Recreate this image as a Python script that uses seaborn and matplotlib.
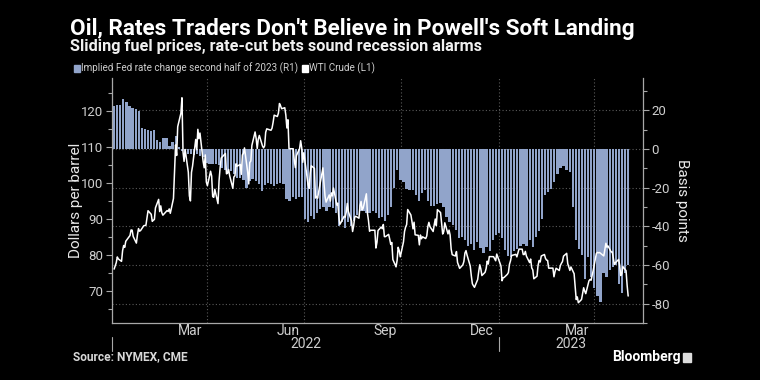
import matplotlib
matplotlib.use("Agg")
import numpy as np
import pandas as pd
import matplotlib.pyplot as plt
import matplotlib.dates as mdates
import matplotlib.transforms as mtransforms
from matplotlib.patches import Rectangle
from matplotlib.ticker import MultipleLocator, NullFormatter, FuncFormatter
import seaborn as sns

# ---------------- text ----------------
TITLE = "Oil, Rates Traders Don't Believe in Powell's Soft Landing"
SUBTITLE = "Sliding fuel prices, rate-cut bets sound recession alarms"
LEGEND_LABELS = ["Implied Fed rate change second half of 2023 (R1)", "WTI Crude (L1)"]
SOURCE = "Source: NYMEX, CME"
BRAND = "Bloomberg"
Y_LEFT_LABEL = "Dollars per barrel"
Y_RIGHT_LABEL = "Basis points"
MONTH_LABELS = ["Mar", "Jun", "Sep", "Dec", "Mar"]
MONTH_LABEL_DATES = ["2022-03-16", "2022-06-16", "2022-09-16", "2022-12-16", "2023-03-16"]
YEAR_LABELS = ["2022", "2023"]
YEAR_STARTS = ["2022-01-01", "2023-01-01"]

# ---------------- data ----------------
HOLIDAYS = ["2022-01-17", "2022-02-21", "2022-04-15", "2022-05-30", "2022-06-20",
            "2022-07-04", "2022-09-05", "2022-11-24", "2022-12-26", "2023-01-02",
            "2023-01-16", "2023-02-20", "2023-04-07"]

# WTI crude, USD/bbl, each trading day from 2022-01-03
wti_2022 = [
    # Jan
    76.08, 76.99, 77.85, 79.46, 78.90, 78.23, 81.22, 82.64, 82.12, 83.82,
    85.43, 86.96, 86.90, 85.14, 83.31, 85.60, 87.35, 86.61, 86.82, 88.15,
    # Feb
    88.20, 88.26, 90.27, 92.31, 91.32, 89.36, 89.66, 89.88, 93.10, 95.46,
    92.07, 93.66, 91.76, 91.07, 92.35, 92.10, 92.81, 91.59, 95.72,
    # Mar
    103.41, 110.60, 107.67, 115.68, 119.40, 123.70, 108.70, 106.02, 109.33, 103.01,
    96.44, 95.04, 102.98, 104.70, 112.12, 109.27, 114.93, 112.34, 113.90, 105.96,
    104.24, 107.82, 100.28,
    # Apr
    99.27, 103.28, 101.96, 96.23, 96.03, 98.26, 94.29, 100.60, 104.25, 106.95,
    108.21, 102.56, 102.75, 103.79, 102.07, 98.54, 101.70, 102.02, 105.36, 104.69,
    # May
    105.17, 102.41, 107.81, 108.26, 109.77, 103.09, 99.76, 105.71, 106.13, 110.49,
    114.20, 112.40, 109.59, 112.21, 113.23, 110.29, 109.77, 110.33, 114.09, 115.07,
    114.67,
    # Jun
    115.26, 116.87, 118.87, 118.50, 119.41, 122.11, 121.51, 120.67, 120.93, 118.93,
    115.31, 117.59, 109.56, 109.52, 106.19, 104.27, 107.62, 109.57, 111.76, 109.78,
    105.76,
    # Jul
    108.43, 99.50, 98.53, 102.73, 104.79, 104.09, 95.84, 96.30, 95.78, 97.59,
    102.60, 104.22, 99.88, 96.35, 94.70, 96.70, 94.98, 97.26, 96.42, 98.62,
    # Aug
    93.89, 94.42, 90.66, 88.54, 89.01, 90.76, 90.50, 91.93, 94.34, 92.09,
    89.41, 86.53, 88.11, 90.50, 90.77, 90.23, 93.74, 94.89, 92.52, 93.06,
    97.01, 91.64, 89.55,
    # Sep
    86.61, 86.87, 86.88, 81.94, 83.54, 86.79, 87.78, 87.31, 88.48, 85.10,
    85.11, 85.73, 84.45, 82.94, 83.49, 78.74, 76.71, 78.50, 82.15, 81.23,
    79.49,
    # Oct
    83.63, 86.52, 87.76, 88.45, 92.64, 91.13, 89.35, 87.27, 89.11, 85.61,
    85.46, 82.82, 85.55, 84.51, 85.05, 84.58, 85.32, 87.91, 89.08, 87.90,
    86.53,
    # Nov
    88.37, 90.00, 88.17, 92.61, 91.79, 88.91, 85.83, 86.47, 88.96, 85.87,
    86.92, 85.59, 81.64, 80.08, 79.73, 80.95, 77.94, 76.28, 77.24, 78.20,
    80.55,
    # Dec
    81.22, 79.98, 76.93, 74.25, 72.01, 71.46, 71.02, 73.17, 75.39, 77.28,
    76.11, 74.29, 75.19, 76.23, 78.29, 77.49, 79.56, 79.53, 78.96, 78.40,
    80.26,
]
wti_2023 = [
    # Jan
    76.93, 72.84, 73.67, 73.77, 74.63, 75.12, 77.41, 78.39, 79.86, 80.18,
    79.48, 80.61, 81.64, 81.62, 80.13, 80.15, 81.01, 79.68, 77.90, 78.87,
    # Feb
    76.41, 75.88, 73.39, 74.11, 77.14, 78.47, 78.06, 79.72, 80.14, 79.06,
    78.59, 78.49, 76.34, 76.36, 73.95, 75.39, 76.32, 75.68, 77.05,
    # Mar
    77.69, 78.16, 79.68, 80.46, 77.58, 76.66, 75.72, 76.68, 74.80, 71.33,
    67.61, 68.35, 66.74, 67.64, 69.33, 70.90, 69.96, 69.26, 72.81, 73.20,
    72.97, 74.37, 75.67,
    # Apr
    80.42, 80.71, 80.61, 80.70, 79.74, 81.53, 83.26, 82.16, 82.52, 80.83,
    80.86, 79.16, 77.37, 77.87, 78.76, 77.07, 74.30, 74.76, 76.78,
    # May
    75.66, 71.66, 68.60,
]
wti = wti_2022 + wti_2023

# Implied Fed rate change for 2H 2023, basis points (evenly spaced observations)
fed_change_bp = [
    22, 22.7, 22.5, 26, 24.5, 22.3, 21.2, 20.6, 19.5, 11,
    10.3, 9.7, 9.3, 9.7, 4.5, 3.6, 5.7, 5.7, 1.6, 3.6,
    6.5, 1, -1, -2, -2.5, -2.5, -3, -2.5, -3.5, -4,
    -7, -8, -8, -8, -8.5, -10, -11, -12, -11.4, -13,
    -14.8, -15, -16, -20, -16.5, -15.5, -16.5, -18, -21.7, -18.6,
    -17.4, -18, -19, -18, -17.4, -18, -26, -27, -25, -26,
    -25, -25, -36, -38, -34.7, -36, -33, -31, -30, -32,
    -30, -30.5, -33, -40, -38, -40.7, -38, -40, -37, -34,
    -32, -32, -33, -33, -32, -33, -35.5, -35, -37, -34,
    -30, -20, -11, -16, -17, -20.5, -21, -21, -24, -27,
    -23, -21, -27, -29.5, -29.5, -28.5, -28, -30, -35, -37.6,
    -39.3, -42, -46, -45.3, -47, -50, -49, -52, -48, -51,
    -53.8, -50.5, -53, -47, -44.5, -43.5, -46, -52, -55.5, -56,
    -53, -51.5, -50, -49, -50, -47, -50.5, -45.5, -42.5, -36,
    -24, -22, -20.5, -17, -13, -10, -9, -10.9, -11.7, -30,
    -47, -51.5, -55, -67, -56, -66, -72, -76, -79, -64,
    -66, -62.5, -61, -60, -70, -74.4, -64, -60,
]

dates = pd.bdate_range("2022-01-03", periods=len(wti), freq="C", holidays=HOLIDAYS)
bar_dates = pd.date_range(dates[0], dates[-1], periods=len(fed_change_bp))
df_line = pd.DataFrame({"date": dates, "wti": wti})
df_bar = pd.DataFrame({"date": bar_dates, "bp": fed_change_bp})

# ---------------- style ----------------
BG = "#000000"
BAR = "#91a4ca"
TXT = "#e8e8e8"
TICK = "#cfcfcf"
SPINE = "#a8a8a8"
GRID = "#5a5a5a"

sns.set_theme(style="dark", rc={
    "figure.facecolor": BG, "axes.facecolor": BG, "savefig.facecolor": BG,
    "text.color": TXT, "axes.labelcolor": TXT,
    "xtick.color": TICK, "ytick.color": TICK, "axes.edgecolor": SPINE,
})
plt.rcParams["font.family"] = ["Roboto", "DejaVu Sans"]

W, H = 760, 380
fig = plt.figure(figsize=(W / 100, H / 100), dpi=100)
L, R, T, B = 112, 643, 78, 323
ax = fig.add_axes([L / W, 1 - B / H, (R - L) / W, (B - T) / H])
ax2 = ax.twinx()

int_fmt = FuncFormatter(lambda v, p: f"{int(round(v))}")

# bars (right axis)
ax.bar(df_bar["date"], df_bar["bp"], width=2.15, color=BAR, linewidth=0, zorder=2)
ax.set_ylim(-90, 36.7)
ax.yaxis.tick_right()
ax.yaxis.set_label_position("right")
ax.yaxis.set_major_locator(MultipleLocator(20))
ax.yaxis.set_minor_locator(MultipleLocator(10))
ax.yaxis.set_major_formatter(int_fmt)
ax.set_ylabel(Y_RIGHT_LABEL, rotation=-90, fontsize=11, color=TXT, labelpad=14)

# line (left axis)
sns.lineplot(data=df_line, x="date", y="wti", ax=ax2, color="white", linewidth=1.1, zorder=3)
ax2.set_ylim(61.1, 129.2)
ax2.yaxis.tick_left()
ax2.yaxis.set_label_position("left")
ax2.yaxis.set_major_locator(MultipleLocator(10))
ax2.yaxis.set_minor_locator(MultipleLocator(5))
ax2.yaxis.set_major_formatter(int_fmt)
ax2.set_ylabel(Y_LEFT_LABEL, fontsize=11, color=TXT)
ax2.yaxis.set_label_coords((83 - L) / (R - L), 0.5)
ax2.set_xlabel("")

# x axis
x0, x1 = pd.Timestamp("2022-01-01"), pd.Timestamp("2023-05-17")
ax.set_xlim(x0, x1)
ax2.set_xlim(x0, x1)
ax.xaxis.set_major_locator(mdates.MonthLocator(bymonth=[1, 4, 7, 10]))
ax.xaxis.set_minor_locator(mdates.MonthLocator())
ax.xaxis.set_major_formatter(NullFormatter())
ax2.xaxis.set_major_formatter(NullFormatter())
ax2.tick_params(axis="x", which="both", length=0)

# grid
ax.grid(True, which="major", axis="both", color=GRID, linestyle=(0, (1, 2)), linewidth=0.8)
ax.set_axisbelow(True)
ax2.grid(False)

for a in (ax, ax2):
    for s in a.spines.values():
        s.set_visible(False)
for a, side in ((ax, "bottom"), (ax, "right"), (ax2, "left")):
    a.spines[side].set_visible(True)
    a.spines[side].set_color(SPINE)
    a.spines[side].set_linewidth(0.9)

ax.tick_params(axis="x", which="both", length=4, width=0.8, color=SPINE, direction="out")
for a in (ax, ax2):
    a.tick_params(axis="y", which="major", length=4, width=0.8, color=SPINE, pad=2,
                  labelsize=9.5, labelcolor=TICK)
    a.tick_params(axis="y", which="minor", length=3, width=0.8, color=SPINE)

# month labels (centered in month) and year labels
blend = mtransforms.blended_transform_factory(ax.transData, fig.transFigure)
for lab, d in zip(MONTH_LABELS, MONTH_LABEL_DATES):
    ax.text(mdates.date2num(pd.Timestamp(d)), 1 - 331 / H, lab, transform=blend,
            ha="center", va="center", fontsize=10, color=TICK)
ys = [mdates.date2num(pd.Timestamp(d)) for d in YEAR_STARTS] + [mdates.date2num(x1)]
for i, lab in enumerate(YEAR_LABELS):
    ax.text((ys[i] + ys[i + 1]) / 2, 1 - 344 / H, lab, transform=blend,
            ha="center", va="center", fontsize=10, color=TICK)
    ax.plot([ys[i], ys[i]], [1 - 337 / H, 1 - 351 / H], transform=blend,
            color=SPINE, lw=0.8, clip_on=False)

# titles
t1 = fig.text(70 / W, 1 - 29 / H, TITLE, fontsize=15, fontweight="bold", color="white", va="center")
t2 = fig.text(70 / W, 1 - 47 / H, SUBTITLE, fontsize=11, fontweight="bold", color="#f0f0f0", va="center")
fig.canvas.draw()
for t, target in ((t1, 568), (t2, 413)):
    w = t.get_window_extent().width
    t.set_fontsize(t.get_fontsize() * target / w)

# legend
fig.patches.append(Rectangle((74 / W, 1 - 72 / H), 6 / W, 7 / H, transform=fig.transFigure,
                             color=BAR, figure=fig))
fig.text(81 / W, 1 - 68 / H, LEGEND_LABELS[0], fontsize=7.1, color=TICK, va="center")
fig.patches.append(Rectangle((302 / W, 1 - 72 / H), 6 / W, 7 / H, transform=fig.transFigure,
                             color="white", figure=fig))
fig.text(309 / W, 1 - 68 / H, LEGEND_LABELS[1], fontsize=7.1, color=TICK, va="center")

# footer
fig.text(73 / W, 1 - 357 / H, SOURCE, fontsize=8.6, fontweight="bold", color="#d8d8d8", va="center")
fig.text(612 / W, 1 - 357 / H, BRAND, fontsize=10, fontweight="bold", color="white", va="center")
fig.patches.append(Rectangle((683 / W, 1 - 362 / H), 8 / W, 9 / H, transform=fig.transFigure,
                             color="#dddddd", figure=fig))

fig.savefig("out.png", dpi=100, facecolor=BG)
